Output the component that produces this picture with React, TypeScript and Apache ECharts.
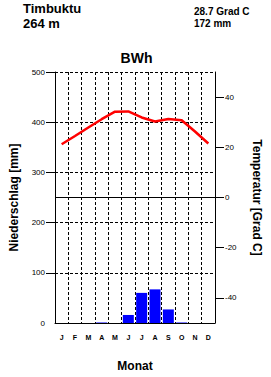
import React, { useEffect, useRef } from "react";
import * as echarts from "echarts";

const months = ["Jan", "Feb", "Mar", "Apr", "May", "Jun", "Jul", "Aug", "Sep", "Oct", "Nov", "Dec"];
const monthLabels = ["J", "F", "M", "A", "M", "J", "J", "A", "S", "O", "N", "D"];
const precipitation = [0, 0, 0, 1, 0, 16, 60, 67, 27, 1, 0, 0];
const temperature = [21.2, 24.5, 27.9, 31.2, 34.2, 34.3, 31.9, 30.3, 31.3, 30.8, 26.3, 21.5];
const precipTicks = [100, 200, 300, 400, 500];
const precipLabels = [0, 100, 200, 300, 400, 500];
const tempTicks = [-40, -20, 0, 20, 40];

const stationName = "Timbuktu";
const elevation = "264 m";
const meanTemp = "28.7 Grad C";
const totalPrecip = "172 mm";
const climateClass = "BWh";

const FONT = "Liberation Sans, Arial, Helvetica, sans-serif";
const dash = [3, 2];

export default function App() {
  const ref = useRef<HTMLDivElement>(null);
  useEffect(() => {
    if (!ref.current) return;
    const chart = echarts.init(ref.current, null, { renderer: "svg" });
    chart.setOption({
      animation: false,
      backgroundColor: "#ffffff",
      textStyle: { fontFamily: FONT },
      grid: { left: 41, top: 72, right: 39, bottom: 41, containLabel: false },
      graphic: [
        { type: "text", left: 23, top: 2, style: { text: stationName, font: `bold 13px ${FONT}`, fill: "#000" } },
        { type: "text", left: 23, top: 17, style: { text: elevation, font: `bold 13px ${FONT}`, fill: "#000" } },
        { type: "text", left: 194, top: 6, style: { text: meanTemp, font: `bold 10px ${FONT}`, fill: "#000" } },
        { type: "text", left: 194, top: 18, style: { text: totalPrecip, font: `bold 10px ${FONT}`, fill: "#000" } },
        {
          type: "text",
          x: 136.5,
          y: 51,
          style: { text: climateClass, font: `bold 14px ${FONT}`, fill: "#000", textAlign: "center" },
        },
      ],
      xAxis: {
        type: "category",
        data: months,
        boundaryGap: true,
        name: "Monat",
        nameLocation: "middle",
        nameGap: 37,
        nameTextStyle: { fontSize: 12, fontWeight: "bold", color: "#000", fontFamily: FONT },
        axisLine: { lineStyle: { color: "#000", width: 1 } },
        axisTick: { show: false },
        axisLabel: {
          formatter: (_v: string, i: number) => monthLabels[i],
          fontSize: 7,
          fontWeight: "bold",
          color: "#000",
          margin: 11,
          interval: 0,
        },
        splitLine: { show: true, interval: 0, lineStyle: { color: "#000", type: dash, width: 1 } },
      },
      yAxis: [
        {
          type: "value",
          min: 0,
          max: 500,
          interval: 50,
          position: "left",
          name: "Niederschlag [mm]",
          nameLocation: "middle",
          nameRotate: 90,
          nameGap: 35,
          nameTextStyle: { fontSize: 12, fontWeight: "bold", color: "#000", fontFamily: FONT },
          axisLine: { show: true, lineStyle: { color: "#000", width: 1 } },
          axisTick: { show: true, length: 9, customValues: precipTicks, lineStyle: { color: "#000" } },
          axisLabel: { customValues: precipLabels, fontSize: 8, color: "#000", margin: 10 },
          splitLine: { show: true, lineStyle: { color: "#000", type: dash, width: 1 } },
        },
        {
          type: "value",
          min: -50,
          max: 50,
          interval: 10,
          position: "right",
          name: "Temperatur [Grad C]",
          nameLocation: "middle",
          nameRotate: -90,
          nameGap: 36,
          nameTextStyle: { fontSize: 12, fontWeight: "bold", color: "#000", fontFamily: FONT },
          axisLine: { show: true, lineStyle: { color: "#000", width: 1 } },
          axisTick: { show: true, length: 9, customValues: tempTicks, lineStyle: { color: "#000" } },
          axisLabel: { customValues: tempTicks, fontSize: 8, color: "#000", margin: 10 },
          splitLine: { show: false },
        },
      ],
      series: [
        {
          type: "bar",
          yAxisIndex: 0,
          data: precipitation,
          barWidth: 11,
          itemStyle: { color: "#0000ff" },
          z: 3,
        },
        {
          type: "line",
          yAxisIndex: 1,
          data: temperature,
          symbol: "none",
          lineStyle: { color: "#ff0000", width: 2.5 },
          z: 4,
          markLine: {
            silent: true,
            symbol: "none",
            label: { show: false },
            lineStyle: { color: "#000", type: "solid", width: 1 },
            data: [{ yAxis: 0 }],
          },
        },
      ],
    });
    return () => chart.dispose();
  }, []);
  return (
    <div
      ref={ref}
      style={{ position: "absolute", left: 0, top: 0, width: 271, height: 377, background: "#fff" }}
    />
  );
}
